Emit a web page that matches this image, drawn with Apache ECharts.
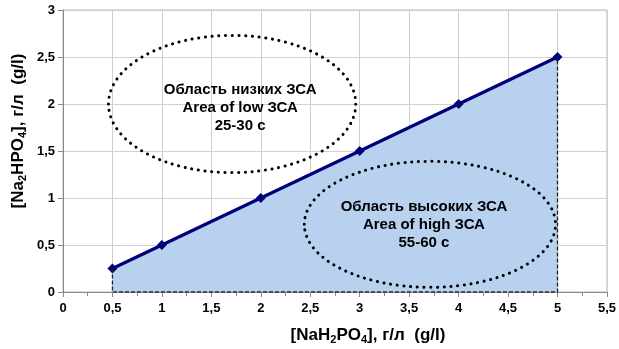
<!DOCTYPE html>
<html>
<head>
<meta charset="utf-8">
<script src="https://cdn.jsdelivr.net/npm/echarts@6/dist/echarts.min.js"></script>
<style>
  html, body { margin: 0; padding: 0; background: #fff; }
  #chart { width: 619px; height: 349px; }
</style>
</head>
<body>
<div id="chart"></div>
<script>
// data
var xValues = [0.5, 1, 2, 3, 4, 5];
var yValues = [0.25, 0.5, 1, 1.5, 2, 2.5];
// dashed outline of the filled area (left edge, bottom, right edge)
var edgeX = [0.5, 0.5, 5, 5];
var edgeY = [0.25, 0, 0, 2.5];
// the two dotted zones: centre x, centre y, radius x, radius y (data units)
var lowZone = [1.71, 2.0, 1.25, 0.73];
var highZone = [3.71, 0.72, 1.27, 0.67];
var lowText = ['Область низких ЗСА', 'Area of low ЗСА', '25-30 с'];
var highText = ['Область высоких ЗСА', 'Area of high ЗСА', '55-60 с'];

var chart = echarts.init(document.getElementById('chart'));

function comma(v) {
  return String(v).replace('.', ',');
}

var fontFam = 'Liberation Sans, Arial, sans-serif';

var option = {
  animation: false,
  grid: {
    left: 63, right: 12, top: 10, bottom: 57,
    show: true,
    borderColor: '#bdbdbd',
    borderWidth: 1
  },
  xAxis: {
    type: 'value',
    min: 0, max: 5.5, interval: 0.5,
    axisLine: { show: true, lineStyle: { color: '#8a8a8a', width: 1 } },
    axisTick: { show: true, length: 5, lineStyle: { color: '#8a8a8a' } },
    minorTick: { show: true, splitNumber: 2, length: 4, lineStyle: { color: '#8a8a8a' } },
    splitLine: { show: true, lineStyle: { color: '#cfcfcf', width: 1 } },
    axisLabel: {
      color: '#000', fontWeight: 'bold', fontSize: 13, fontFamily: fontFam,
      margin: 10, formatter: comma
    }
  },
  yAxis: {
    type: 'value',
    min: 0, max: 3, interval: 0.5,
    axisLine: { show: true, lineStyle: { color: '#8a8a8a', width: 1 } },
    axisTick: { show: true, length: 5, lineStyle: { color: '#8a8a8a' } },
    splitLine: { show: true, lineStyle: { color: '#cfcfcf', width: 1 } },
    axisLabel: {
      color: '#000', fontWeight: 'bold', fontSize: 13, fontFamily: fontFam,
      margin: 8, formatter: comma
    }
  },
  series: [
    {
      type: 'line',
      data: xValues.map(function (x, i) { return [x, yValues[i]]; }),
      symbol: 'diamond',
      symbolSize: 10,
      itemStyle: { color: '#00007a' },
      lineStyle: { color: '#00007a', width: 3.2 },
      areaStyle: { color: '#b7d1ef', opacity: 1 },
      z: 3
    },
    {
      type: 'line',
      data: edgeX.map(function (x, i) { return [x, edgeY[i]]; }),
      symbol: 'none',
      lineStyle: { color: '#222', width: 1.3, type: [4, 2] },
      z: 4
    }
  ]
};

chart.setOption(option);

function zoneGraphics(zone, lines, dx, dy) {
  var c = chart.convertToPixel({ gridIndex: 0 }, [zone[0], zone[1]]);
  var e = chart.convertToPixel({ gridIndex: 0 }, [zone[0] + zone[2], zone[1] - zone[3]]);
  return [
    {
      type: 'ellipse',
      shape: { cx: c[0], cy: c[1], rx: e[0] - c[0], ry: e[1] - c[1] },
      style: { fill: null, stroke: '#000', lineWidth: 3, lineDash: [0.1, 6.6], lineCap: 'round' },
      z: 10
    },
    {
      type: 'text',
      x: c[0] + dx,
      y: c[1] + dy,
      style: {
        text: lines.join('\n'),
        align: 'center',
        verticalAlign: 'middle',
        fill: '#000',
        font: 'bold 15px ' + fontFam,
        lineHeight: 18
      },
      z: 11
    }
  ];
}

var richName = {
  n: { fontSize: 17, fontWeight: 'bold', fontFamily: fontFam, color: '#000', lineHeight: 21 },
  s: { fontSize: 11, fontWeight: 'bold', fontFamily: fontFam, color: '#000', lineHeight: 21, verticalAlign: 'bottom' }
};

var graphics = []
  .concat(zoneGraphics(lowZone, lowText, 8, 4))
  .concat(zoneGraphics(highZone, highText, -6, 1))
  .concat([
    {
      type: 'text',
      x: 368, y: 335,
      style: {
        text: '{n|[NaH}{s|2}{n|PO}{s|4}{n|], г/л  (g/l)}',
        rich: richName,
        align: 'center',
        verticalAlign: 'middle'
      }
    },
    {
      type: 'text',
      x: 18, y: 131,
      rotation: Math.PI / 2,
      style: {
        text: '{n|[Na}{s|2}{n|HPO}{s|4}{n|], г/л  (g/l)}',
        rich: richName,
        align: 'center',
        verticalAlign: 'middle'
      }
    }
  ]);

chart.setOption({ graphic: graphics });
</script>
</body>
</html>
